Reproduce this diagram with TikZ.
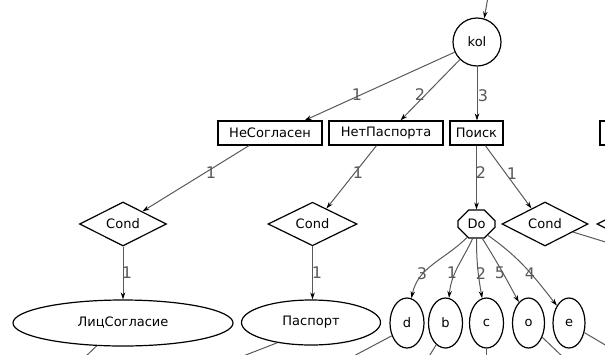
\documentclass[tikz,border=0pt]{standalone}
\usepackage{fontspec}
\setmainfont{DejaVu Sans}
\usetikzlibrary{shapes.geometric,shapes.misc,arrows.meta}
\begin{document}
\begin{tikzpicture}[x=1pt,y=-1pt,
  nd/.style={draw=black, line width=1.2pt, inner sep=0pt, font=\fontsize{13}{15}\selectfont},
  boxnode/.style={nd, rectangle, minimum height=24pt},
  ellnode/.style={nd, ellipse},
  dianode/.style={nd, diamond},
  octnode/.style={nd, chamfered rectangle, chamfered rectangle xsep=6pt, chamfered rectangle ysep=6pt},
  edg/.style={draw=black!65, line width=1pt, -{Stealth[length=7pt,width=4.5pt,color=black]}},
  ped/.style={draw=black!65, line width=1pt},
  lbl/.style={text=black!65, inner sep=0pt, font=\fontsize{16}{18}\selectfont}
]
\useasboundingbox (0,0) rectangle (605,354);
\clip (0,0) rectangle (605,354);

% nodes
\node[nd, circle, minimum size=48pt] (kol) at (477,42) {kol};
\node[boxnode, minimum width=104pt] (nes) at (270,133) {НеСогласен};
\node[boxnode, minimum width=114pt] (netp) at (386,133) {НетПаспорта};
\node[boxnode, minimum width=53pt] (poisk) at (476.5,133) {Поиск};
\node[boxnode, minimum width=80pt] (rbox) at (640,133) {};
\node[dianode, minimum width=87pt, minimum height=44pt] (c1) at (123,224) {Cond};
\node[dianode, minimum width=89pt, minimum height=43pt] (c2) at (312.5,224) {Cond};
\node[dianode, minimum width=86pt, minimum height=44pt] (c3) at (545,224) {Cond};
\node[dianode, minimum width=88pt, minimum height=44pt] (c4) at (641,224) {};
\node[octnode, minimum width=37pt, minimum height=28pt] (do) at (476.5,224) {Do};
\node[ellnode, minimum width=220pt, minimum height=46pt] (lic) at (123,323) {ЛицСогласие};
\node[ellnode, minimum width=139pt, minimum height=45pt] (pas) at (311,322.5) {Паспорт};
\node[ellnode, minimum width=34pt, minimum height=50pt] (d) at (407,323) {d};
\node[ellnode, minimum width=34pt, minimum height=50pt] (b) at (445.5,323) {b};
\node[ellnode, minimum width=34pt, minimum height=50pt] (c) at (486.5,323) {c};
\node[ellnode, minimum width=32pt, minimum height=50pt] (o) at (528.5,323) {o};
\node[ellnode, minimum width=32pt, minimum height=50pt] (e) at (569,323) {e};

% free ends
\coordinate (src) at (488,-3);
\coordinate (x1) at (84,358);
\coordinate (x2) at (238,358);
\coordinate (x3) at (350,358);
\coordinate (x4) at (428,358);
\coordinate (x5) at (486.5,358);
\coordinate (x6) at (564,358);
\coordinate (x7) at (612,349);
\coordinate (x8) at (612,244);

% connectors
\draw[edg] (src) -- (kol.73);
\draw[edg] (kol) -- (nes.20);
\draw[edg] (kol) -- (netp.41);
\draw[edg] (kol) -- (kol |- poisk.north);
\draw[edg] (nes.-149) -- (c1.33);
\draw[edg] (netp.-127) -- (c2.48);
\draw[edg] (poisk) -- (poisk |- do.north);
\draw[edg] (poisk.-55) -- (c3.131);
\draw[edg] (c1) -- (c1 |- lic.north);
\draw[edg] (c2) -- (c2 |- pas.north);
\draw[edg] (do.-125) to[out=-135,in=78] (d.80);
\draw[edg] (do.-105) to[out=-115,in=85] (b.82);
\draw[edg] (do.-90) to[out=-90,in=100] (c.100);
\draw[edg] (do.-68) to[out=-58,in=118] (o.115);
\draw[edg] (do.-45) to[out=-35,in=128] (e.125);

\draw[ped] (lic.221) -- (x1);
\draw[ped] (pas.211) -- (x2);
\draw[ped] (d.220) -- (x3);
\draw[ped] (b.247) -- (x4);
\draw[ped] (c.south) -- (x5);
\draw[ped] (o.-46) -- (x6);
\draw[ped] (e.-32) -- (x7);
\draw[ped] (c3.-16) -- (x8);

% edge labels
\node[lbl] (l1) at (357,95) {1};
\node[lbl] (l2) at (420,95) {2};
\node[lbl] (l3) at (483,96) {3};
\node[lbl] (l4) at (211,173) {1};
\node[lbl] (l5) at (358,173) {1};
\node[lbl] (l6) at (481,173) {2};
\node[lbl] (l7) at (512,174) {1};
\node[lbl] (l8) at (127,273) {1};
\node[lbl] (l9) at (317,273) {1};
\node[lbl] (l10) at (422,274) {3};
\node[lbl] (l11) at (452,273) {1};
\node[lbl] (l12) at (481,274) {2};
\node[lbl] (l13) at (500,273) {5};
\node[lbl] (l14) at (530,274) {4};
\end{tikzpicture}
\end{document}
